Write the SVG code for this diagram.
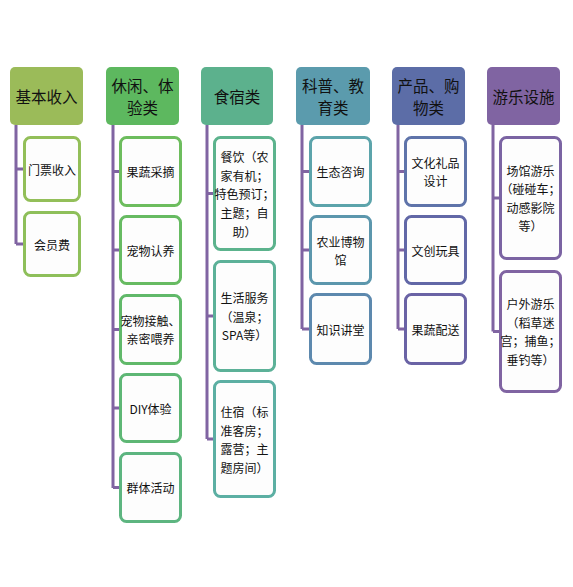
<svg xmlns="http://www.w3.org/2000/svg" width="573" height="587" viewBox="0 0 573 587">
<style>
.bg{fill:#ffffff}
.hd{stroke:none}
.ch{fill:#fdfdfd;stroke-width:3}
.ht{font-family:"Noto Sans CJK SC","Noto Sans",sans-serif;font-size:15.5px;fill:#111;text-anchor:middle;dominant-baseline:central}
.ct{font-family:"Noto Sans CJK SC","Noto Sans",sans-serif;font-size:12px;fill:#111;text-anchor:middle;dominant-baseline:central}
.cn{fill:none;stroke:#8064A2;stroke-width:3}
</style>
<rect class="bg" x="0" y="0" width="573" height="587"/>
<g id="connectors">
<path class="cn" d="M16,125 V244 M16,169 H23 M16,244 H23"/>
<path class="cn" d="M113,125 V488 M113,171.5 H119 M113,250 H119 M113,329.5 H119 M113,408 H119 M113,487.5 H119"/>
<path class="cn" d="M207,125 V439 M207,193.5 H213 M207,316 H213 M207,439 H213"/>
<path class="cn" d="M302,125 V329 M302,171.5 H309 M302,250 H309 M302,329 H309"/>
<path class="cn" d="M398,125 V329 M398,171.5 H404 M398,250 H404 M398,329 H404"/>
<path class="cn" d="M493,125 V331.5 M493,198 H499 M493,331.5 H499"/>
</g>
<g id="h1"><rect class="hd" x="10" y="67" width="73" height="58" rx="5" fill="#9BBB59"/><text class="ht" x="46.5" y="96">基本收入</text></g>
<g id="h2"><rect class="hd" x="106" y="67" width="73" height="58" rx="5" fill="#5DB85F"/><text class="ht" x="142.5" y="85">休闲、体</text><text class="ht" x="142.5" y="107">验类</text></g>
<g id="h3"><rect class="hd" x="201" y="67" width="72" height="58" rx="5" fill="#5CB18D"/><text class="ht" x="237" y="96">食宿类</text></g>
<g id="h4"><rect class="hd" x="296" y="67" width="74" height="58" rx="5" fill="#5B9BAD"/><text class="ht" x="333" y="85">科普、教</text><text class="ht" x="333" y="107">育类</text></g>
<g id="h5"><rect class="hd" x="392" y="67" width="73" height="58" rx="5" fill="#5C6DA7"/><text class="ht" x="428.5" y="85">产品、购</text><text class="ht" x="428.5" y="107">物类</text></g>
<g id="h6"><rect class="hd" x="487" y="67" width="73" height="58" rx="5" fill="#8064A2"/><text class="ht" x="523.5" y="96">游乐设施</text></g>

<g id="c1a"><rect class="ch" x="24.5" y="137.5" width="55" height="63" rx="6" stroke="#93BF59"/><text class="ct" x="52" y="169">门票收入</text></g>
<g id="c1b"><rect class="ch" x="24.5" y="212.5" width="55" height="63" rx="6" stroke="#8EBF5A"/><text class="ct" x="52" y="244">会员费</text></g>

<g id="c2a"><rect class="ch" x="120.5" y="137.5" width="60" height="68" rx="6" stroke="#6DBD5E"/><text class="ct" x="150.5" y="171.5">果蔬采摘</text></g>
<g id="c2b"><rect class="ch" x="120.5" y="216.5" width="60" height="67" rx="6" stroke="#67BB62"/><text class="ct" x="150.5" y="250">宠物认养</text></g>
<g id="c2c"><rect class="ch" x="120.5" y="295.5" width="60" height="68" rx="6" stroke="#61B96A"/><text class="ct" x="150.5" y="320">宠物接触、</text><text class="ct" x="150.5" y="338">亲密喂养</text></g>
<g id="c2d"><rect class="ch" x="120.5" y="374.5" width="60" height="67" rx="6" stroke="#5EB775"/><text class="ct" x="150.5" y="408">DIY体验</text></g>
<g id="c2e"><rect class="ch" x="120.5" y="453.5" width="60" height="68" rx="6" stroke="#5DB580"/><text class="ct" x="150.5" y="487.5">群体活动</text></g>

<g id="c3a"><rect class="ch" x="214.5" y="137.5" width="60" height="112" rx="6" stroke="#5CB38D"/><text class="ct" x="244.5" y="156">餐饮（农</text><text class="ct" x="244.5" y="175">家有机；</text><text class="ct" x="244.5" y="193.5">特色预订；</text><text class="ct" x="244.5" y="212">主题；自</text><text class="ct" x="244.5" y="231">助）</text></g>
<g id="c3b"><rect class="ch" x="214.5" y="261.5" width="60" height="109" rx="6" stroke="#5CB198"/><text class="ct" x="244.5" y="297.5">生活服务</text><text class="ct" x="244.5" y="316">（温泉；</text><text class="ct" x="244.5" y="334.5">SPA等）</text></g>
<g id="c3c"><rect class="ch" x="214.5" y="381.5" width="60" height="115" rx="6" stroke="#5CAFA3"/><text class="ct" x="244.5" y="411.5">住宿（标</text><text class="ct" x="244.5" y="430">准客房；</text><text class="ct" x="244.5" y="448.5">露营；主</text><text class="ct" x="244.5" y="467">题房间）</text></g>

<g id="c4a"><rect class="ch" x="310.5" y="137.5" width="60" height="68" rx="6" stroke="#5CA4AB"/><text class="ct" x="340.5" y="171.5">生态咨询</text></g>
<g id="c4b"><rect class="ch" x="310.5" y="216.5" width="60" height="67" rx="6" stroke="#5C97AD"/><text class="ct" x="340.5" y="241">农业博物</text><text class="ct" x="340.5" y="259">馆</text></g>
<g id="c4c"><rect class="ch" x="310.5" y="294.5" width="60" height="69" rx="6" stroke="#5D89AE"/><text class="ct" x="340.5" y="329">知识讲堂</text></g>

<g id="c5a"><rect class="ch" x="405.5" y="137.5" width="60" height="68" rx="6" stroke="#5F74AA"/><text class="ct" x="435.5" y="162.5">文化礼品</text><text class="ct" x="435.5" y="180.5">设计</text></g>
<g id="c5b"><rect class="ch" x="405.5" y="216.5" width="60" height="67" rx="6" stroke="#6268A7"/><text class="ct" x="435.5" y="250">文创玩具</text></g>
<g id="c5c"><rect class="ch" x="405.5" y="294.5" width="60" height="69" rx="6" stroke="#6A63A5"/><text class="ct" x="435.5" y="329">果蔬配送</text></g>

<g id="c6a"><rect class="ch" x="500.5" y="137.5" width="60" height="121" rx="6" stroke="#7B64A3"/><text class="ct" x="530.5" y="170">场馆游乐</text><text class="ct" x="530.5" y="188.5">（碰碰车；</text><text class="ct" x="530.5" y="207">动感影院</text><text class="ct" x="530.5" y="225.5">等）</text></g>
<g id="c6b"><rect class="ch" x="500.5" y="271.5" width="60" height="120" rx="6" stroke="#8064A2"/><text class="ct" x="530.5" y="303.5">户外游乐</text><text class="ct" x="530.5" y="322">（稻草迷</text><text class="ct" x="530.5" y="340.5">宫；捕鱼；</text><text class="ct" x="530.5" y="359">垂钓等）</text></g>
</svg>
